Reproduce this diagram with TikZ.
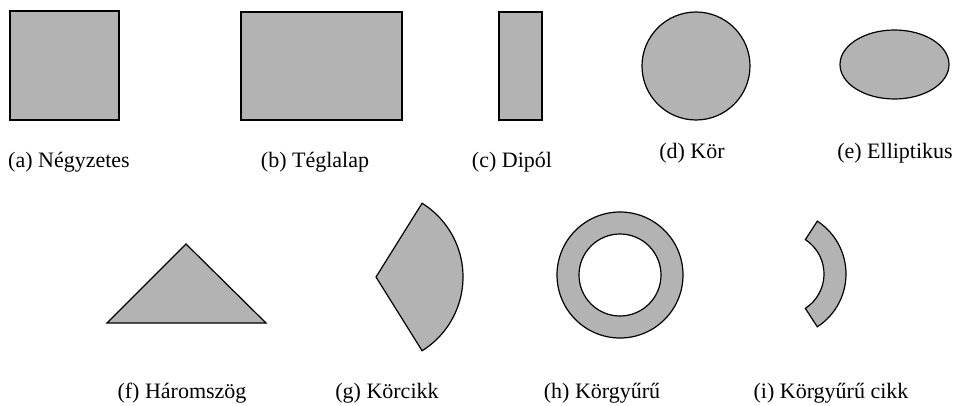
\documentclass[tikz,border=0pt]{standalone}
\usepackage{fontspec}
\setmainfont{Liberation Serif}
\usetikzlibrary{calc}
\begin{document}
\begin{tikzpicture}[x=1pt,y=1pt,
  gshape/.style={draw=black,fill=shapegray,line width=1.2pt,line join=miter},
  lbl/.style={anchor=base,inner sep=0pt,font=\fontsize{22}{26}\selectfont}]
\definecolor{shapegray}{RGB}{179,179,179}
\useasboundingbox (0,0) rectangle (958,405);
% row 1
\draw[gshape] (10,285) rectangle (119,394);
\draw[gshape] (241,285) rectangle (402,393);
\draw[gshape] (499,285) rectangle (542,393);
\draw[gshape] (696,339) circle[radius=54];
\draw[gshape] (894.5,340.5) ellipse[x radius=54.5,y radius=34.5];
\node[lbl] (la) at (69,237) {(a) Négyzetes};
\node[lbl] (lb) at (315,237) {(b) Téglalap};
\node[lbl] (lc) at (512,237) {(c) Dipól};
\node[lbl] (ld) at (692,247) {(d) Kör};
\node[lbl] (le) at (895,247) {(e) Elliptikus};
% row 2
\draw[gshape] (107,82) -- (266,82) -- (186,161) -- cycle;
\draw[gshape] (376,128) -- ++(-58:87) arc[start angle=-58,end angle=58,radius=87] -- cycle;
\draw[gshape,even odd rule] (620,130) circle[radius=63] (620,130) circle[radius=41];
\draw[gshape] (783,131) ++(-57:63) arc[start angle=-57,end angle=57,radius=63]
  -- ($(783,131)+(57:41)$) arc[start angle=57,end angle=-57,radius=41] -- cycle;
\node[lbl] (lf) at (182,7) {(f) Háromszög};
\node[lbl] (lg) at (387,7) {(g) Körcikk};
\node[lbl] (lh) at (602,7) {(h) Körgyűrű};
\node[lbl] (li) at (831,7) {(i) Körgyűrű cikk};
\end{tikzpicture}
\end{document}
